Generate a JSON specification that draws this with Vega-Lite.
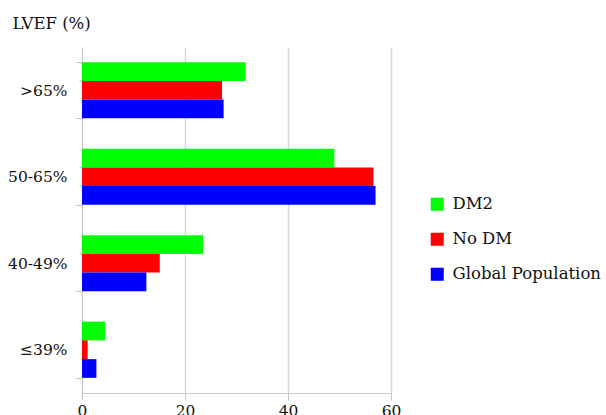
{
  "$schema": "https://vega.github.io/schema/vega-lite/v6.json",
  "width": 309,
  "height": 346,
  "autosize": "none",
  "padding": {"left": 82, "top": 47, "right": 215, "bottom": 22},
  "background": "white",
  "config": {
    "font": "DejaVu Serif",
    "axis": {"labelFont": "DejaVu Serif", "titleFont": "DejaVu Serif"},
    "legend": {"labelFont": "DejaVu Serif"},
    "view": {"stroke": null}
  },
  "data": {
    "values": [
      {"lvef": ">65%", "group": "DM2", "pct": 31.8},
      {"lvef": ">65%", "group": "No DM", "pct": 27.2},
      {"lvef": ">65%", "group": "Global Population", "pct": 27.5},
      {"lvef": "50-65%", "group": "DM2", "pct": 49.0},
      {"lvef": "50-65%", "group": "No DM", "pct": 56.6},
      {"lvef": "50-65%", "group": "Global Population", "pct": 57.0},
      {"lvef": "40-49%", "group": "DM2", "pct": 23.5},
      {"lvef": "40-49%", "group": "No DM", "pct": 15.1},
      {"lvef": "40-49%", "group": "Global Population", "pct": 12.5},
      {"lvef": "≤39%", "group": "DM2", "pct": 4.5},
      {"lvef": "≤39%", "group": "No DM", "pct": 1.1},
      {"lvef": "≤39%", "group": "Global Population", "pct": 2.8}
    ]
  },
  "mark": {"type": "bar"},
  "encoding": {
    "y": {
      "field": "lvef",
      "type": "nominal",
      "sort": [">65%", "50-65%", "40-49%", "≤39%"],
      "scale": {"paddingInner": 0.35, "paddingOuter": 0.175},
      "axis": {
        "title": "LVEF (%)",
        "titleFont": "DejaVu Serif",
        "labelFont": "DejaVu Serif",
        "titleAngle": 0,
        "titleAlign": "left",
        "titleBaseline": "alphabetic",
        "titleX": -70,
        "titleY": -19,
        "titleFontSize": 16.5,
        "titleFontWeight": "normal",
        "titleColor": "#111",
        "labelFontSize": 15.5,
        "labelColor": "#111",
        "labelPadding": 8,
        "tickBand": "extent",
        "tickSize": 7,
        "tickColor": "#c8c8c8",
        "domainColor": "#c8c8c8",
        "grid": false
      }
    },
    "yOffset": {
      "field": "group",
      "type": "nominal",
      "sort": ["DM2", "No DM", "Global Population"],
      "scale": {"paddingInner": 0, "paddingOuter": 0}
    },
    "x": {
      "field": "pct",
      "type": "quantitative",
      "scale": {"domain": [0, 60], "nice": false},
      "axis": {
        "title": null,
        "labelFont": "DejaVu Serif",
        "values": [0, 20, 40, 60],
        "labelFontSize": 15.5,
        "labelColor": "#111",
        "labelPadding": 3,
        "tickSize": 7,
        "tickColor": "#c8c8c8",
        "domainColor": "#c8c8c8",
        "gridColor": "#d9d9d9",
        "gridWidth": 1.5,
        "labelFlush": false
      }
    },
    "color": {
      "field": "group",
      "type": "nominal",
      "sort": ["DM2", "No DM", "Global Population"],
      "scale": {"domain": ["DM2", "No DM", "Global Population"], "range": ["#00ff00", "#ff0000", "#0000ff"]},
      "legend": {
        "title": null,
        "labelFont": "DejaVu Serif",
        "orient": "none",
        "legendX": 347,
        "legendY": 149,
        "symbolType": "square",
        "symbolSize": 170,
        "symbolStrokeWidth": 0,
        "labelFontSize": 16.5,
        "labelColor": "#111",
        "labelBaseline": "middle",
        "rowPadding": 18,
        "labelOffset": 7,
        "labelLimit": 300
      }
    }
  }
}
